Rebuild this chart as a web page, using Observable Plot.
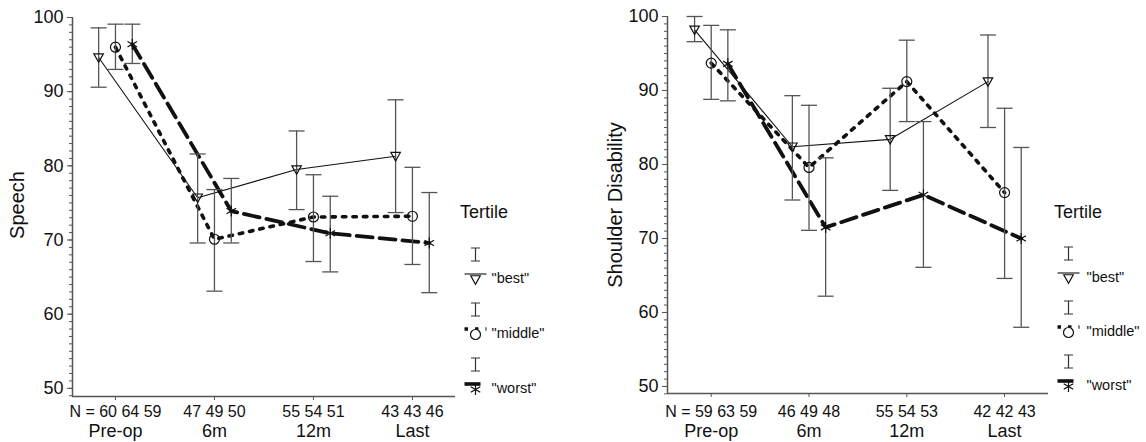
<!DOCTYPE html>
<html><head><meta charset="utf-8">
<script src="https://cdn.jsdelivr.net/npm/d3@7"></script>
<script src="https://cdn.jsdelivr.net/npm/@observablehq/plot@0.6"></script>
<style>
body{margin:0;background:#fff;font-family:"Liberation Sans",Arial,sans-serif;}
#root{position:relative;width:1146px;height:442px;overflow:hidden;background:#fff;}
#root svg{position:absolute;top:0;}
.ylab{position:absolute;font-size:20px;color:#111;white-space:nowrap;transform:translate(-50%,-50%) rotate(-90deg);}
.ttl{position:absolute;font-size:18px;color:#111;transform:translateY(-50%);}
</style></head><body><div id="root"></div>
<script>
// ---- data ----
const timepoints = ["Pre-op","6m","12m","Last"];
const tertiles = ["best","middle","worst"];

// Speech (left)
const speechBestMean   = [94.6, 75.7, 79.5, 81.3];
const speechBestLo     = [90.6, 69.6, 74.1, 73.7];
const speechBestHi     = [98.6, 81.6, 84.7, 88.9];
const speechMiddleMean = [96.0, 70.1, 73.1, 73.2];
const speechMiddleLo   = [93.0, 63.1, 67.1, 66.7];
const speechMiddleHi   = [99.1, 76.8, 78.8, 79.8];
const speechWorstMean  = [96.4, 73.9, 70.9, 69.6];
const speechWorstLo    = [93.8, 69.6, 65.7, 62.9];
const speechWorstHi    = [99.1, 78.3, 75.9, 76.4];
const speechN = ["N = 60 64 59", "47 49 50", "55 54 51", "43 43 46"];

// Shoulder Disability (right)
const shoulderBestMean   = [98.2, 82.4, 83.4, 91.2];
const shoulderBestLo     = [96.6, 75.2, 76.5, 85.0];
const shoulderBestHi     = [100.0, 89.3, 90.3, 97.5];
const shoulderMiddleMean = [93.7, 79.6, 91.2, 76.2];
const shoulderMiddleLo   = [88.8, 71.1, 85.8, 64.6];
const shoulderMiddleHi   = [98.8, 88.0, 96.8, 87.6];
const shoulderWorstMean  = [93.6, 71.5, 75.9, 70.0];
const shoulderWorstLo    = [88.6, 62.2, 66.1, 58.0];
const shoulderWorstHi    = [98.2, 80.9, 85.8, 82.3];
const shoulderN = ["N = 59 63 59", "46 49 48", "55 54 53", "42 42 43"];

const yMajor = [50, 60, 70, 80, 90, 100];
const yMinor = d3.range(49, 101);

// ---- styles ----
const FONT = "Liberation Sans, Arial, sans-serif";
const AX = "#555";
const offsets = {best: -0.17, middle: 0, worst: 0.17};
const lineStyle = {
  best:   {strokeWidth: 1.1, strokeDasharray: null},
  middle: {strokeWidth: 3.6, strokeDasharray: "3.5,7"},
  worst:  {strokeWidth: 3.8, strokeDasharray: "16,7"}
};
const sym = {
  triDown: {draw(c, s){ const r = Math.sqrt(s/Math.PI); c.moveTo(-0.95*r,-0.75*r); c.lineTo(0.95*r,-0.75*r); c.lineTo(0,0.95*r); c.closePath(); }},
  star: {draw(c, s){ const r = Math.sqrt(s/Math.PI);
    for (const a of [90, 30, 150]) { const t = a*Math.PI/180; c.moveTo(-r*Math.cos(t), -r*Math.sin(t)); c.lineTo(r*Math.cos(t), r*Math.sin(t)); } }},
  circle: {draw(c, s){ const r = Math.sqrt(s/Math.PI); c.moveTo(r,0); c.arc(0,0,r,0,2*Math.PI); }},
  cap: {draw(c, s){ const r = Math.sqrt(s/Math.PI); c.moveTo(-r,0); c.lineTo(r,0); }},
  ibar: {draw(c, s){ const r = Math.sqrt(s/Math.PI); const h = r*1.3, w = r*0.9;
    c.moveTo(-w,-h); c.lineTo(w,-h); c.moveTo(0,-h); c.lineTo(0,h); c.moveTo(-w,h); c.lineTo(w,h); }},
  seg: {draw(c, s){ const r = Math.sqrt(s/Math.PI); c.moveTo(-r,0); c.lineTo(r,0); }}
};
const markerSym = {best: sym.triDown, middle: sym.circle, worst: sym.star};
const markerR = {best: 5, middle: 5, worst: 5.5};

function rows(series) {
  const out = [];
  for (const t of tertiles) {
    const s = series[t];
    s.mean.forEach((m, i) => out.push({tertile: t, x: i + 1 + offsets[t], mean: m, lo: s.lo[i], hi: s.hi[i]}));
  }
  return out;
}

function panel({data, nLabels, xDomain, yDomain, marginTop, marginBottom, width, nPad, labPad}) {
  const marks = [
    Plot.axisY({ticks: yMinor, tickSize: 3, text: null, stroke: AX}),
    Plot.axisY({ticks: yMajor, tickSize: 5, tickPadding: 4, fontSize: 18, stroke: AX, fill: "#111", label: null}),
    Plot.axisX({ticks: [1,2,3,4], tickSize: 4, tickPadding: nPad, fontSize: 16, stroke: AX, fill: "#111",
      tickFormat: d => nLabels[d-1], label: null}),
    Plot.axisX({ticks: [1,2,3,4], tickSize: 0, tickPadding: labPad, fontSize: 18, fill: "#111",
      tickFormat: d => timepoints[d-1], label: null}),
    Plot.ruleX([xDomain[0]], {stroke: AX, strokeWidth: 1.5}),
    Plot.ruleY([yDomain[0]], {stroke: AX, strokeWidth: 1.5})
  ];
  for (const t of tertiles) {
    marks.push(Plot.line(data.filter(d => d.tertile === t), {x: "x", y: "mean", stroke: "#111",
      strokeWidth: lineStyle[t].strokeWidth, strokeDasharray: lineStyle[t].strokeDasharray}));
  }
  marks.push(Plot.ruleX(data, {x: "x", y1: "lo", y2: "hi", stroke: AX, strokeWidth: 1.3}));
  marks.push(Plot.dot(data, {x: "x", y: "lo", symbol: sym.cap, r: 8, stroke: AX, strokeWidth: 1.3}));
  marks.push(Plot.dot(data, {x: "x", y: "hi", symbol: sym.cap, r: 8, stroke: AX, strokeWidth: 1.3}));
  for (const t of tertiles) {
    marks.push(Plot.dot(data.filter(d => d.tertile === t), {x: "x", y: "mean", symbol: markerSym[t],
      r: markerR[t], stroke: "#111", strokeWidth: 1.2, fill: "none"}));
  }
  return Plot.plot({
    width, height: 442, marginLeft: 72, marginRight: 5, marginTop, marginBottom,
    x: {domain: xDomain, axis: null}, y: {domain: yDomain, axis: null},
    style: {fontFamily: FONT, background: "transparent", overflow: "visible"},
    marks
  });
}

function legend(yRange, textDx) {
  const items = tertiles.map(t => ({t, label: `"${t}"`}));
  const marks = [];
  for (const t of tertiles) {
    const d = items.filter(e => e.t === t);
    marks.push(Plot.dot(d, {x: () => 0, y: "t", symbol: sym.ibar, r: 5, dy: -25, stroke: "#333", strokeWidth: 1.2}));
    marks.push(Plot.dot(d, {x: () => 0, y: "t", symbol: sym.seg, r: 11, dy: -5.5, stroke: "#111",
      strokeWidth: t === "best" ? 1.1 : 3.6, strokeDasharray: lineStyle[t].strokeDasharray}));
    marks.push(Plot.dot(d, {x: () => 0, y: "t", symbol: markerSym[t], r: markerR[t], stroke: "#111", strokeWidth: 1.2, fill: "white"}));
    marks.push(Plot.text(d, {x: () => 0, y: "t", text: "label", dx: textDx, dy: -1, textAnchor: "start", fontSize: 14.5, fill: "#111"}));
  }
  return Plot.plot({
    width: 98, height: 442, margin: 0,
    x: {domain: [0, 1], range: [20, 21], axis: null},
    y: {type: "point", domain: tertiles, range: yRange, padding: 0, axis: null},
    style: {fontFamily: FONT, background: "transparent", overflow: "visible"},
    marks
  });
}

const root = document.getElementById("root");

const speech = rows({
  best: {mean: speechBestMean, lo: speechBestLo, hi: speechBestHi},
  middle: {mean: speechMiddleMean, lo: speechMiddleLo, hi: speechMiddleHi},
  worst: {mean: speechWorstMean, lo: speechWorstLo, hi: speechWorstHi}
});
const shoulder = rows({
  best: {mean: shoulderBestMean, lo: shoulderBestLo, hi: shoulderBestHi},
  middle: {mean: shoulderMiddleMean, lo: shoulderMiddleLo, hi: shoulderMiddleHi},
  worst: {mean: shoulderWorstMean, lo: shoulderWorstLo, hi: shoulderWorstHi}
});

const p1 = panel({data: speech, nLabels: speechN, xDomain: [0.566, 4.435], yDomain: [48.9, 100],
  marginTop: 17, marginBottom: 46, width: 460, nPad: 5, labPad: 28});
p1.style.left = "0px";
root.appendChild(p1);

const p2 = panel({data: shoulder, nLabels: shoulderN, xDomain: [0.553, 4.449], yDomain: [49.05, 100],
  marginTop: 16, marginBottom: 49, width: 458, nPad: 8, labPad: 31});
p2.style.left = "595px";
root.appendChild(p2);

const l1 = legend([278, 389], 16); l1.style.left = "455px"; root.appendChild(l1);
const l2 = legend([277, 386], 18); l2.style.left = "1048px"; root.appendChild(l2);

function addDiv(cls, text, x, y) {
  const d = document.createElement("div"); d.className = cls; d.textContent = text;
  d.style.left = x + "px"; d.style.top = y + "px"; root.appendChild(d);
}
addDiv("ylab", "Speech", 17, 205);
addDiv("ylab", "Shoulder Disability", 615, 205);
addDiv("ttl", "Tertile", 460, 212);
addDiv("ttl", "Tertile", 1054, 212);
</script></body></html>
